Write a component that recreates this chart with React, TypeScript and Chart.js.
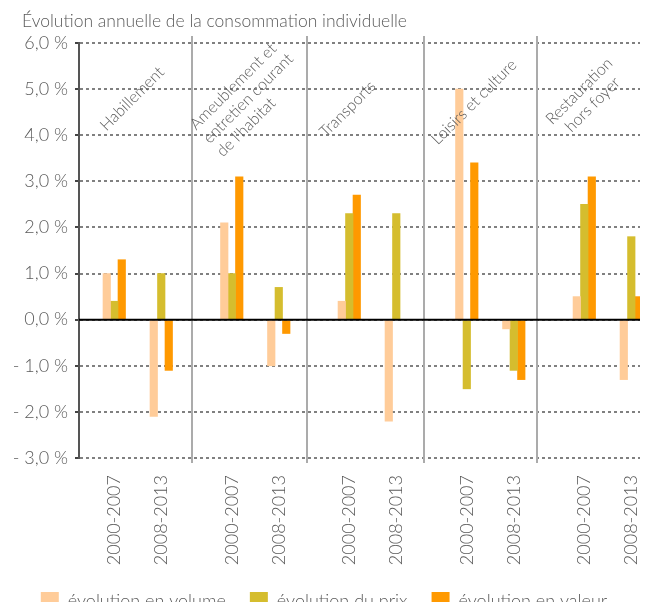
import React, { useEffect, useRef } from 'react';
import { Chart, registerables } from 'chart.js';

Chart.register(...registerables);

// ---- data ----
const title = 'Évolution annuelle de la consommation individuelle';
const groups = [
  'Habillement',
  "Ameublement et\nentretien courant\nde l'habitat",
  'Transports',
  'Loisirs et culture',
  'Restauration\nhors foyer',
];
const periods = ['2000-2007', '2008-2013'];
const seriesNames = ['évolution en volume', 'évolution du prix', 'évolution en valeur'];
// order: group0 2000-2007, group0 2008-2013, group1 2000-2007, ...
const volume = [1.0, -2.1, 2.1, -1.0, 0.4, -2.2, 5.0, -0.2, 0.5, -1.3];
const prix = [0.4, 1.0, 1.0, 0.7, 2.3, 2.3, -1.5, -1.1, 2.5, 1.8];
const valeur = [1.3, -1.1, 3.1, -0.3, 2.7, 0.0, 3.4, -1.3, 3.1, 0.5];
const yMin = -3;
const yMax = 6;
const yStep = 1;

// ---- layout / style ----
const FONT = "Lato, Roboto, 'Liberation Sans', sans-serif";
const WEIGHT = '300';
const TEXT = '#5A5A5A';
const COLORS = ['#FFCC99', '#D5BD2E', '#FF9900'];
const SLOTS_PER_GROUP = 5;
const PERIOD_SLOT = [1, 3];
const X_MAX = 23.87;
const SEPARATORS = [4.81, 9.7, 14.68, 19.49];
const LABEL_ANCHORS = [
  [2.26, 4.79],
  [7.2, 4.8],
  [11.43, 4.57],
  [16.81, 4.72],
  [21.57, 4.81],
];
const LABEL_ALIGN = ['center', 'left', 'center', 'center', 'center'];

const xPositions = groups.flatMap((_, g) =>
  periods.map((__, p) => g * SLOTS_PER_GROUP + PERIOD_SLOT[p] + 0.5)
);

const fmtPct = (v: number) =>
  (v < 0 ? '- ' : '') + Math.abs(v).toFixed(1).replace('.', ',') + ' %';

const decorPlugin = {
  id: 'decor',
  beforeDatasetsDraw(chart: any) {
    const { ctx, chartArea, scales } = chart;
    ctx.save();
    ctx.strokeStyle = '#ABABAB';
    ctx.lineWidth = 2;
    SEPARATORS.forEach((v) => {
      const x = Math.round(scales.x.getPixelForValue(v));
      ctx.beginPath();
      ctx.moveTo(x, chartArea.top - 7);
      ctx.lineTo(x, chartArea.bottom + 5);
      ctx.stroke();
    });
    ctx.restore();
  },
  afterDatasetsDraw(chart: any) {
    const { ctx, chartArea, scales } = chart;
    ctx.save();
    const y0 = scales.y.getPixelForValue(0);
    ctx.strokeStyle = '#000';
    ctx.lineWidth = 2;
    ctx.beginPath();
    ctx.moveTo(chartArea.left, y0);
    ctx.lineTo(chartArea.right, y0);
    ctx.stroke();
    ctx.fillStyle = TEXT;
    ctx.font = `${WEIGHT} 16px ${FONT}`;
    ctx.textBaseline = 'middle';
    const lineH = 19;
    groups.forEach((g, i) => {
      const lines = g.split('\n');
      const px = scales.x.getPixelForValue(LABEL_ANCHORS[i][0]);
      const py = scales.y.getPixelForValue(LABEL_ANCHORS[i][1]);
      const maxW = Math.max(...lines.map((l) => ctx.measureText(l).width));
      ctx.save();
      ctx.translate(px, py);
      ctx.rotate(-Math.PI / 4);
      lines.forEach((l, k) => {
        const yy = (k - (lines.length - 1) / 2) * lineH;
        if (LABEL_ALIGN[i] === 'left') {
          ctx.textAlign = 'left';
          ctx.fillText(l, -maxW / 2, yy);
        } else {
          ctx.textAlign = 'center';
          ctx.fillText(l, 0, yy);
        }
      });
      ctx.restore();
    });
    ctx.restore();
  },
  afterDraw(chart: any) {
    const { ctx } = chart;
    ctx.save();
    ctx.fillStyle = TEXT;
    ctx.font = `${WEIGHT} 17.5px ${FONT}`;
    ctx.textAlign = 'left';
    ctx.textBaseline = 'alphabetic';
    ctx.fillText(title, 14, 19);
    ctx.restore();
  },
};

export default function App() {
  const ref = useRef<HTMLCanvasElement>(null);
  useEffect(() => {
    if (!ref.current) return;
    const series = [volume, prix, valeur];
    const chart = new Chart(ref.current, {
      type: 'bar',
      data: {
        datasets: series.map((arr, s) => ({
          label: seriesNames[s],
          data: arr.map((v, i) => ({ x: xPositions[i], y: v })),
          backgroundColor: COLORS[s],
          borderWidth: 0,
          barThickness: 7.5,
        })),
      },
      options: {
        animation: false,
        responsive: false,
        layout: { padding: { top: 35, bottom: -10, left: 0, right: 3 } },
        scales: {
          x: {
            type: 'linear',
            min: 0,
            max: X_MAX,
            offset: false,
            afterBuildTicks: (s: any) => {
              s.ticks = xPositions.map((v) => ({ value: v }));
            },
            afterFit: (s: any) => {
              s.height = 110;
              s.paddingLeft = 0;
              s.paddingRight = 0;
            },
            ticks: {
              autoSkip: false,
              minRotation: 90,
              maxRotation: 90,
              padding: 9,
              color: TEXT,
              font: { family: FONT, size: 18, weight: WEIGHT },
              callback: (_v: any, i: number) => periods[i % periods.length],
            },
            grid: { display: false, offset: false },
            border: { display: false },
          },
          y: {
            min: yMin,
            max: yMax,
            afterFit: (s: any) => {
              s.width = 71;
              s.paddingTop = 0;
              s.paddingBottom = 0;
            },
            ticks: {
              stepSize: yStep,
              padding: 7,
              color: TEXT,
              font: { family: FONT, size: 18, weight: WEIGHT },
              callback: (v: any) => fmtPct(Number(v)),
            },
            grid: {
              color: '#808080',
              lineWidth: 2,
              tickLength: 4,
              tickColor: '#444',
              tickWidth: 2,
            },
            border: { display: true, color: '#555', width: 2, dash: [3, 3] },
          },
        },
        plugins: {
          legend: {
            position: 'bottom',
            labels: {
              boxWidth: 18,
              boxHeight: 18,
              padding: 24,
              color: TEXT,
              font: { family: FONT, size: 18, weight: WEIGHT },
            },
          },
          tooltip: { enabled: false },
          title: { display: false },
        },
      },
      plugins: [decorPlugin],
    } as any);
    return () => chart.destroy();
  }, []);
  return (
    <div style={{ width: 635, height: 602, marginBottom: -8 }}>
      <canvas ref={ref} width={635} height={602} style={{ display: 'block' }} />
    </div>
  );
}
